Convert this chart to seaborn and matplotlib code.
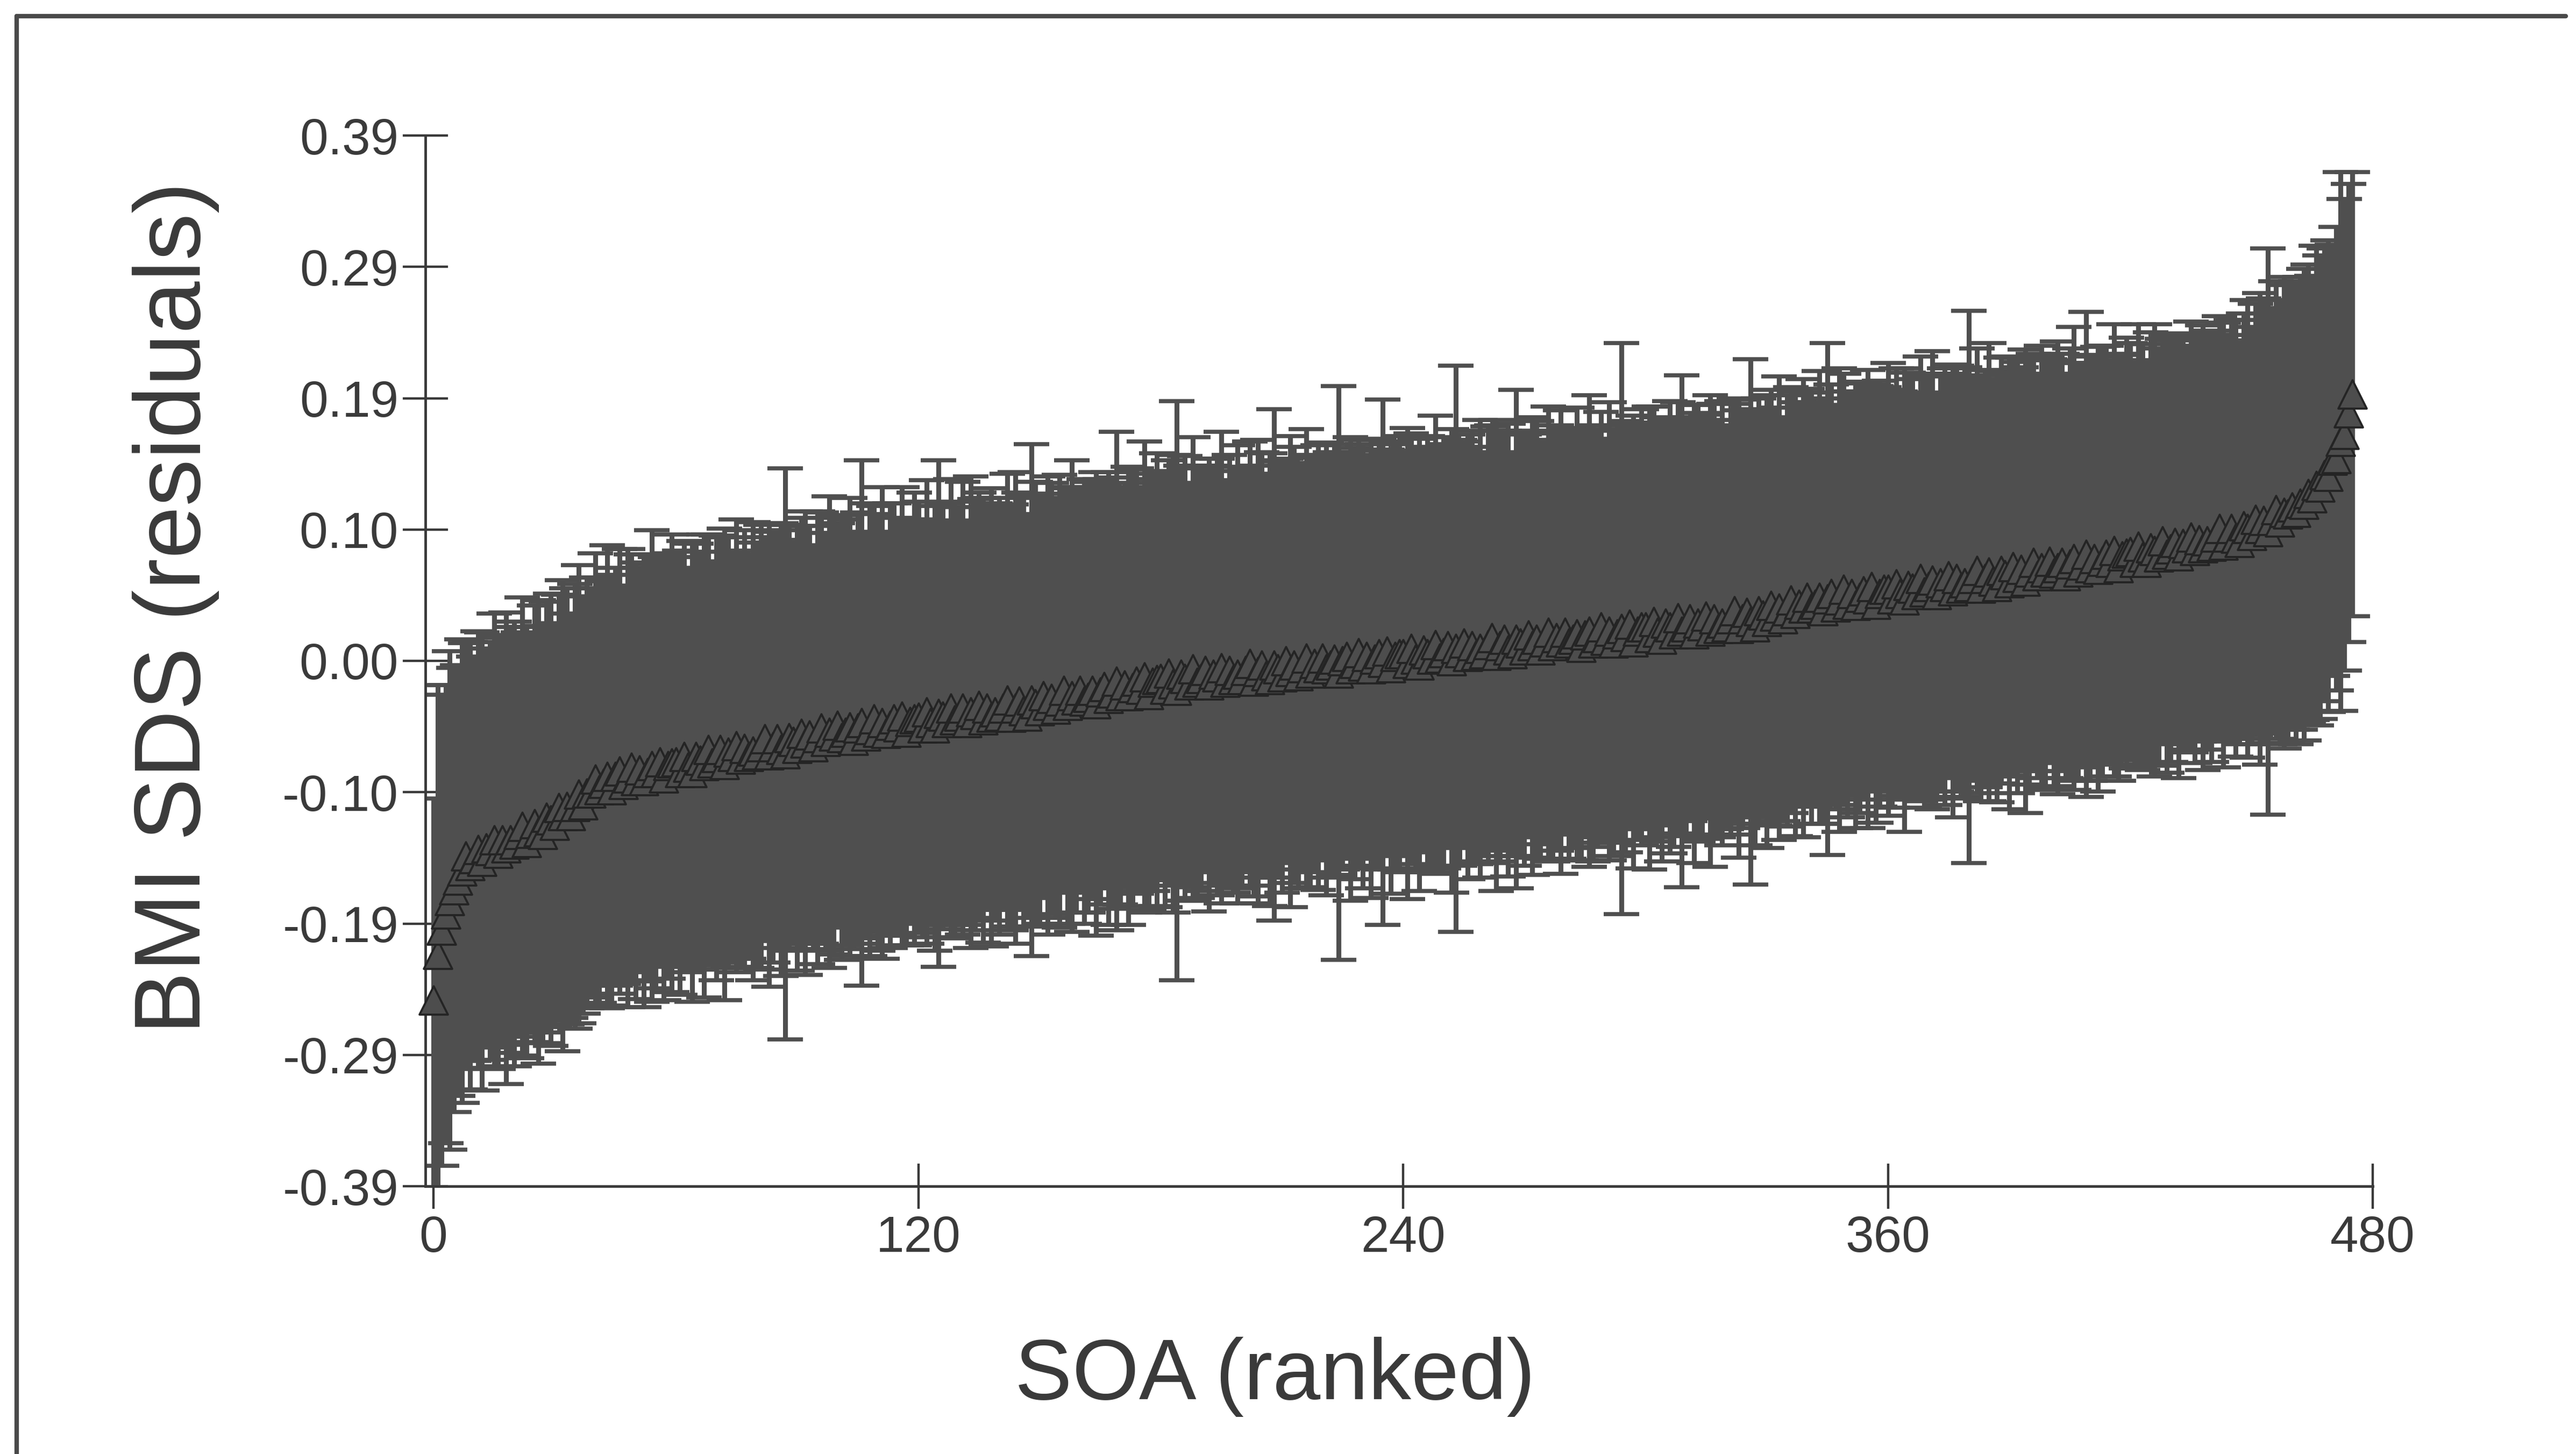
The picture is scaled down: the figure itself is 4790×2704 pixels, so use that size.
import numpy as np
import pandas as pd
import matplotlib
matplotlib.use("Agg")
import matplotlib.pyplot as plt
from matplotlib import font_manager
from matplotlib.lines import Line2D
import seaborn as sns

# ---- data ----
x_ticks = [0, 120, 240, 360, 480]
y_tick_labels = ["-0.39", "-0.29", "-0.19", "-0.10", "0.00", "0.10", "0.19", "0.29", "0.39"]
x_label = "SOA (ranked)"
y_label = "BMI SDS (residuals)"

# mean residual for each ranked SOA (thousandths of SDS)
mean_milli = [
    -252, -218, -200, -188, -178, -170, -163, -156, -145, -152, -147, -140, -149, -139, -141, -133, -143, -133, -139, -133,
    -136, -129, -123, -135, -128, -121, -127, -129, -116, -118, -122, -109, -115, -108, -115, -108, -99, -107, -98, -98,
    -88, -96, -91, -86, -96, -86, -82, -92, -87, -79, -89, -81, -89, -83, -78, -83, -75, -87, -78, -76,
    -75, -83, -71, -79, -83, -71, -74, -78, -66, -76, -72, -66, -77, -68, -71, -63, -73, -65, -71, -67,
    -70, -64, -58, -70, -64, -58, -66, -69, -57, -60, -65, -54, -61, -55, -64, -57, -50, -60, -53, -56,
    -48, -57, -53, -49, -59, -50, -46, -56, -51, -43, -53, -46, -54, -48, -43, -49, -41, -53, -45, -43,
    -42, -50, -38, -46, -50, -39, -41, -46, -35, -44, -41, -35, -46, -38, -40, -33, -44, -35, -42, -38,
    -41, -35, -29, -42, -35, -30, -37, -41, -29, -32, -37, -26, -33, -28, -36, -30, -22, -33, -26, -29,
    -22, -30, -27, -22, -32, -23, -19, -28, -24, -15, -26, -18, -26, -20, -15, -21, -12, -25, -16, -14,
    -13, -21, -9, -17, -22, -10, -13, -18, -6, -16, -13, -7, -18, -10, -12, -5, -16, -7, -14, -10,
    -14, -7, -2, -15, -8, -3, -11, -14, -3, -6, -12, 0, -8, -3, -11, -5, 2, -9, -2, -5,
    2, -6, -3, 1, -9, 0, 3, -6, -2, 6, -4, 3, -6, 1, 5, -1, 7, -5, 3, 5,
    5, -2, 9, 1, -3, 8, 5, 1, 12, 2, 6, 11, 0, 9, 6, 13, 3, 11, 4, 9,
    5, 12, 17, 4, 11, 16, 8, 5, 16, 13, 8, 19, 11, 16, 8, 14, 21, 11, 17, 14,
    21, 13, 16, 20, 10, 19, 22, 13, 17, 25, 15, 22, 13, 20, 24, 18, 27, 14, 22, 25,
    25, 17, 29, 21, 16, 28, 25, 20, 32, 22, 25, 31, 20, 28, 26, 33, 22, 31, 24, 28,
    25, 31, 37, 24, 31, 36, 29, 25, 37, 34, 29, 41, 33, 39, 31, 37, 45, 35, 42, 39,
    47, 39, 42, 47, 37, 46, 50, 40, 45, 53, 42, 50, 41, 47, 52, 46, 55, 42, 50, 53,
    53, 46, 57, 50, 45, 56, 54, 49, 61, 51, 55, 60, 49, 58, 55, 63, 52, 61, 54, 58,
    55, 61, 67, 54, 61, 66, 59, 55, 67, 64, 58, 70, 62, 68, 59, 66, 73, 63, 69, 66,
    74, 65, 69, 73, 63, 72, 76, 66, 71, 79, 69, 76, 68, 74, 79, 73, 82, 69, 78, 80,
    81, 73, 85, 77, 73, 84, 82, 77, 89, 79, 83, 88, 78, 87, 84, 92, 82, 90, 84, 89,
    85, 92, 98, 86, 92, 98, 91, 88, 100, 98, 93, 105, 98, 104, 96, 104, 112, 103, 110, 109,
    114, 110, 117, 116, 124, 121, 130, 129, 138, 137, 149, 150, 163, 168, 184, 198,
]

# half-width of each error bar (thousandths of SDS)
halfwidth_milli = [
    150, 200, 175, 170, 185, 165, 160, 172, 158, 166, 150, 162, 170, 148, 155, 168, 160, 152, 175, 158,
    165, 150, 170, 160, 148, 162, 172, 155, 160, 168, 150, 158, 175, 162, 150, 165, 170, 155, 160, 152,
    168, 158, 150, 172, 160, 155, 165, 148, 170, 158, 162, 150, 168, 155, 175, 160, 150, 165, 158, 170,
    152, 165, 160, 148, 170, 158, 155, 172, 160, 150, 165, 158, 175, 160, 150, 168, 155, 162, 150, 170,
    158, 165, 150, 172, 160, 155, 168, 212, 158, 150, 165, 160, 172, 155, 150, 168, 160, 155, 175, 162,
    150, 165, 158, 170, 155, 160, 195, 150, 168, 158, 162, 175, 150, 165, 160, 155, 170, 158, 150, 168,
    160, 155, 172, 150, 165, 188, 158, 150, 170, 162, 155, 168, 150, 175, 160, 158, 165, 150, 170, 155,
    162, 150, 168, 158, 175, 155, 160, 150, 190, 165, 158, 150, 170, 160, 155, 168, 150, 162, 175, 158,
    150, 165, 160, 155, 172, 158, 150, 168, 160, 185, 155, 150, 170, 162, 158, 150, 175, 160, 155, 168,
    150, 162, 158, 170, 215, 155, 165, 150, 172, 160, 158, 150, 168, 155, 162, 175, 150, 160, 158, 170,
    155, 150, 165, 160, 172, 158, 150, 168, 190, 155, 160, 150, 175, 162, 158, 150, 170, 160, 155, 165,
    150, 168, 158, 160, 213, 155, 150, 172, 160, 158, 165, 150, 170, 155, 160, 195, 150, 168, 158, 162,
    150, 175, 160, 155, 168, 150, 162, 158, 170, 155, 160, 150, 172, 210, 158, 150, 165, 160, 155, 170,
    150, 162, 158, 175, 160, 155, 168, 150, 185, 158, 160, 150, 170, 162, 155, 150, 168, 160, 158, 172,
    150, 160, 155, 168, 158, 150, 175, 162, 155, 160, 150, 170, 158, 155, 212, 160, 150, 168, 155, 162,
    150, 172, 160, 155, 165, 150, 168, 158, 160, 190, 155, 150, 170, 162, 158, 150, 175, 160, 155, 165,
    150, 160, 158, 170, 155, 150, 195, 162, 158, 150, 168, 160, 155, 172, 150, 160, 158, 165, 150, 170,
    155, 160, 150, 168, 158, 190, 155, 150, 172, 160, 158, 150, 165, 160, 155, 170, 150, 162, 158, 150,
    168, 155, 160, 150, 172, 158, 155, 150, 165, 160, 158, 170, 150, 155, 162, 150, 168, 158, 155, 160,
    205, 150, 165, 158, 155, 170, 150, 160, 158, 150, 168, 155, 160, 150, 172, 158, 155, 150, 165, 160,
    150, 158, 168, 155, 150, 160, 172, 155, 150, 180, 158, 150, 165, 160, 155, 150, 168, 158, 150, 160,
    155, 150, 165, 158, 150, 160, 168, 155, 150, 162, 158, 150, 165, 155, 150, 160, 158, 150, 165, 155,
    160, 150, 158, 165, 150, 155, 162, 150, 158, 170, 155, 160, 175, 165, 210, 158, 170, 165, 175, 170,
    165, 172, 168, 175, 170, 165, 178, 172, 168, 175, 160, 172, 200, 175, 170, 165,
]

n = min(len(mean_milli), len(halfwidth_milli))
df = pd.DataFrame({
    "rank": np.arange(n),
    "mean": np.array(mean_milli[:n]) / 1000.0,
    "hw": np.array(halfwidth_milli[:n]) / 1000.0,
})

# ---- style ----
sns.set_theme(style="white")
names = {f.name for f in font_manager.fontManager.ttflist}
narrow = "Liberation Sans Narrow" if "Liberation Sans Narrow" in names else "Liberation Sans"
tick_size = 74 if narrow == "Liberation Sans Narrow" else 68
plt.rcParams["font.family"] = ["Liberation Sans", "DejaVu Sans"]
ink = "#3a3a3a"

W, H = 4790, 2704
fig = plt.figure(figsize=(W / 100, H / 100), dpi=100)
fig.patch.set_facecolor("white")

# axes placement (pixels -> figure fraction)
x_left_px, x_right_px = 791, 4412
y_top_px, y_bot_px = 252, 2206
ax = fig.add_axes([x_left_px / W, 1 - y_bot_px / H,
                   (x_right_px - x_left_px) / W, (y_bot_px - y_top_px) / H])
ax.set_facecolor("white")

bar_col = "#4f4f4f"
ax.errorbar(df["rank"], df["mean"], yerr=df["hw"], fmt="none",
            ecolor=bar_col, elinewidth=6.5, capsize=24, capthick=5.5, zorder=2)

sns.scatterplot(data=df, x="rank", y="mean", marker="^", s=38 ** 2,
                color="#4d4d4d", edgecolor="#242424", linewidth=2.8,
                ax=ax, zorder=3, clip_on=False, legend=False)

ax.set_xlim(-2, 480)
ax.set_ylim(-0.39, 0.39)
ax.set_xticks(x_ticks)
ax.set_xticklabels([str(t) for t in x_ticks])
ax.set_yticks(np.linspace(-0.39, 0.39, len(y_tick_labels)))
ax.set_yticklabels(y_tick_labels)
ax.set_xlabel("")
ax.set_ylabel("")

for side in ["top", "right"]:
    ax.spines[side].set_visible(False)
for side in ["left", "bottom"]:
    ax.spines[side].set_visible(True)
    ax.spines[side].set_color(ink)
    ax.spines[side].set_linewidth(3.5)

ax.tick_params(axis="both", which="major", direction="inout", length=60,
               width=3.2, color=ink, labelcolor=ink, labelsize=tick_size,
               bottom=True, left=True, top=False, right=False)
ax.tick_params(axis="x", pad=8)
ax.tick_params(axis="y", pad=6)
for lab in ax.get_xticklabels() + ax.get_yticklabels():
    lab.set_family([narrow, "DejaVu Sans"])

# axis titles
fig.text(2371 / W, 1 - 2602 / H, x_label, ha="center", va="baseline",
         fontsize=115, color=ink)
fig.text(372 / W, 1 - 1130 / H, y_label, ha="center", va="baseline",
         rotation=90, rotation_mode="anchor", fontsize=126, color=ink)

# outer frame (top and left edges visible)
frame_col = "#4a4a4a"
fig.add_artist(Line2D([31 / W, 4771 / W], [1 - 30 / H, 1 - 30 / H],
                      transform=fig.transFigure, color=frame_col, linewidth=6))
fig.add_artist(Line2D([31 / W, 31 / W], [0, 1 - 30 / H],
                      transform=fig.transFigure, color=frame_col, linewidth=6))

fig.savefig("out.png", dpi=100, facecolor="white")
